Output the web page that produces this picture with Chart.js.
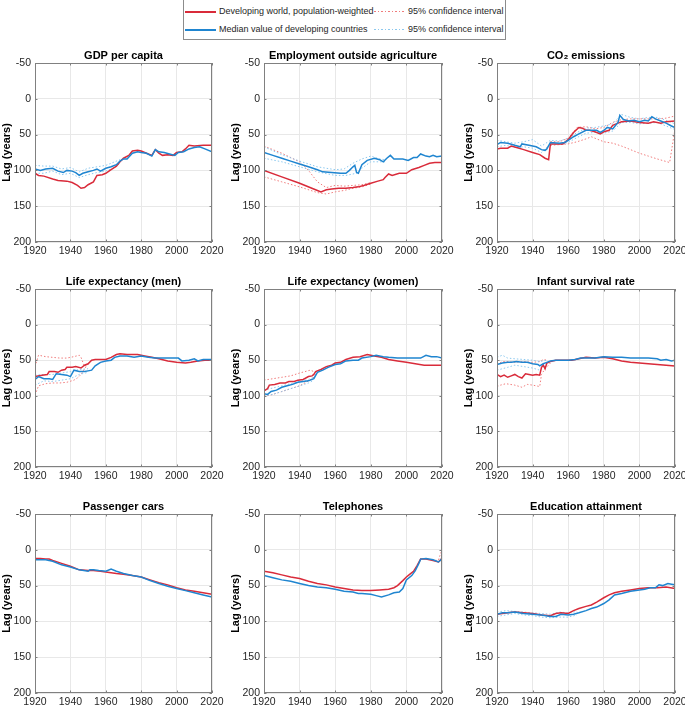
<!DOCTYPE html>
<html>
<head>
<meta charset="utf-8">
<script src="https://cdn.jsdelivr.net/npm/chart.js@4.4.1/dist/chart.umd.min.js"></script>
<style>
  html, body { margin: 0; padding: 0; background: #fff; }
  body { width: 685px; height: 707px; position: relative; overflow: hidden; font-family: 'Liberation Sans', Arial, sans-serif; }
  canvas { position: absolute; }
  .lg { position: absolute; font-size: 9px; color: #262626; line-height: 11px; white-space: nowrap; }
  .ln { position: absolute; width: 31px; height: 2px; }
  .dt { position: absolute; width: 31px; height: 1px; }
  #legend { position: absolute; left: 183px; top: -1px; width: 323px; height: 41px; box-sizing: border-box; border: 1px solid #8c8c8c; }
</style>
</head>
<body>
<div id="legend"></div>
<div class="ln" style="left:185px;top:11px;background:#d92b3a"></div>
<div class="lg" style="left:219px;top:6px">Developing world, population-weighted</div>
<div class="dt" style="left:374px;top:11px;background:repeating-linear-gradient(90deg,#f07c7c 0 1.5px,transparent 1.5px 3.5px)"></div>
<div class="lg" style="left:408px;top:6px">95% confidence interval</div>
<div class="ln" style="left:185px;top:29px;background:#1f85d0"></div>
<div class="lg" style="left:219px;top:24px">Median value of developing countries</div>
<div class="dt" style="left:374px;top:29px;background:repeating-linear-gradient(90deg,#8cc8ee 0 1.5px,transparent 1.5px 3.5px)"></div>
<div class="lg" style="left:408px;top:24px">95% confidence interval</div>

<script>
// ---- data: [year, lag] pairs ----
const titles = ['GDP per capita', 'Employment outside agriculture', 'CO\u2082 emissions',
  'Life expectancy (men)', 'Life expectancy (women)', 'Infant survival rate',
  'Passenger cars', 'Telephones', 'Education attainment'];
const xTicks = [1920, 1940, 1960, 1980, 2000, 2020];
const yTicks = [-50, 0, 50, 100, 150, 200];

const gdpRed = [[1920,104],[1922,107],[1925,108],[1930,112],[1933,114],[1938,115],[1941,117],[1944,121],[1946,125],[1948,124],[1950,120],[1953,116],[1955,107],[1958,106],[1960,104],[1963,99],[1966,94],[1968,88],[1970,83],[1973,79],[1975,73],[1978,72],[1980,73],[1983,76],[1986,79],[1988,71],[1990,76],[1992,79],[1995,78],[1998,79],[2000,75],[2003,74],[2005,70],[2007,65],[2010,66],[2015,65],[2020,65]];
const gdpBlue = [[1920,98],[1923,100],[1926,98],[1930,97],[1933,101],[1936,103],[1938,100],[1941,101],[1943,103],[1945,107],[1947,104],[1950,102],[1953,100],[1955,98],[1957,101],[1960,97],[1963,95],[1966,92],[1968,87],[1970,84],[1972,84],[1975,76],[1978,74],[1980,75],[1983,76],[1986,80],[1988,71],[1990,74],[1993,75],[1996,77],[1999,79],[2001,75],[2004,74],[2007,70],[2010,68],[2013,67],[2016,70],[2020,74]];
const gdpBlueHi = [[1920,93],[1925,94],[1930,94],[1935,98],[1940,96],[1945,102],[1950,97],[1955,95],[1960,93],[1965,88],[1968,85]];
const gdpBlueLo = [[1920,104],[1925,104],[1930,101],[1935,106],[1940,104],[1945,110],[1950,106],[1955,103],[1960,101],[1965,96],[1968,90]];

const empRed = [[1920,100],[1930,109],[1940,118],[1950,128],[1952,130],[1955,127],[1958,126],[1962,125],[1966,125],[1970,124],[1973,123],[1976,121],[1980,118],[1984,115],[1987,113],[1988,110],[1990,105],[1992,107],[1996,104],[2000,104],[2003,99],[2007,96],[2010,93],[2013,90],[2016,89],[2020,89]];
const empRedHi = [[1920,66],[1930,76],[1940,88],[1945,100],[1950,116],[1955,124],[1960,121],[1965,122],[1970,121],[1975,120],[1980,117]];
const empRedLo = [[1920,109],[1930,116],[1940,123],[1950,131],[1955,133],[1960,130],[1965,128],[1970,125],[1975,123],[1980,119]];
const empBlue = [[1920,75],[1925,79],[1930,83],[1935,87],[1940,91],[1945,95],[1950,99],[1953,102],[1958,103],[1963,104],[1966,104],[1968,100],[1970,95],[1971,93],[1972,103],[1973,104],[1975,92],[1978,86],[1982,83],[1985,85],[1987,88],[1989,83],[1991,79],[1993,84],[1996,84],[1998,84],[2001,86],[2004,82],[2006,82],[2008,77],[2011,80],[2013,81],[2015,79],[2017,81],[2020,80]];
const empBlueHi = [[1920,67],[1930,78],[1940,87],[1950,95],[1960,99],[1965,98],[1970,90],[1975,84],[1980,80],[1985,84],[1988,85]];
const empBlueLo = [[1920,83],[1930,88],[1940,95],[1950,102],[1960,107],[1966,107],[1972,104],[1975,97],[1980,88],[1985,88],[1988,88]];

const co2Red = [[1920,70],[1922,69],[1926,69],[1928,66],[1931,68],[1935,71],[1940,75],[1944,78],[1947,83],[1949,85],[1950,63],[1953,63],[1957,63],[1960,57],[1963,47],[1966,40],[1968,41],[1970,44],[1972,44],[1975,46],[1978,49],[1980,46],[1983,44],[1985,37],[1988,34],[1990,32],[1995,31],[2000,33],[2005,34],[2008,32],[2012,34],[2015,32],[2020,31]];
const co2RedHi = [[1950,60],[1955,60],[1960,55],[1965,40],[1970,39],[1975,42],[1980,40],[1985,33],[1990,29],[1995,28],[2000,28],[2005,28],[2010,28],[2015,27],[2020,24]];
const co2RedLo = [[1950,65],[1955,64],[1960,63],[1965,60],[1970,56],[1973,53],[1976,56],[1980,60],[1985,62],[1990,66],[1995,71],[2000,76],[2005,80],[2010,84],[2017,89],[2020,42]];
const co2Blue = [[1920,64],[1922,61],[1926,62],[1930,65],[1933,67],[1934,63],[1938,65],[1942,67],[1945,71],[1947,72],[1948,70],[1950,61],[1955,62],[1958,61],[1960,58],[1963,53],[1966,49],[1970,44],[1973,44],[1976,44],[1978,47],[1980,44],[1982,40],[1985,42],[1987,36],[1988,33],[1989,23],[1991,29],[1994,31],[1997,30],[2000,32],[2003,30],[2005,31],[2007,25],[2009,28],[2012,31],[2015,34],[2018,38],[2020,40]];
const co2BlueHi = [[1920,58],[1925,60],[1930,62],[1935,60],[1940,57],[1945,66],[1950,58],[1955,59],[1960,55],[1965,47],[1970,41],[1975,40],[1980,38],[1985,35],[1988,27],[1990,22],[1995,26],[2000,28],[2005,26],[2010,26],[2015,30],[2020,35]];
const co2BlueLo = [[1920,67],[1925,65],[1930,68],[1935,67],[1940,69],[1945,75],[1950,63],[1955,64],[1960,61],[1965,54],[1970,48],[1975,47],[1980,48],[1985,45],[1990,33],[1995,33],[2000,35],[2005,34],[2010,33],[2015,38],[2020,43]];

const menRed = [[1920,73],[1924,71],[1927,70],[1928,66],[1931,66],[1933,67],[1935,64],[1937,63],[1938,60],[1941,60],[1943,59],[1946,61],[1948,57],[1950,55],[1952,50],[1954,49],[1960,49],[1963,46],[1966,42],[1968,41],[1972,42],[1978,42],[1982,44],[1986,46],[1990,48],[1995,51],[2000,53],[2005,54],[2008,53],[2012,51],[2016,50],[2020,50]];
const menRedHi = [[1920,59],[1922,43],[1926,45],[1930,46],[1934,47],[1938,47],[1942,45],[1945,43],[1946,46],[1948,59],[1950,55]];
const menRedLo = [[1920,99],[1922,86],[1926,83],[1930,82],[1934,82],[1938,81],[1942,78],[1944,75],[1946,70],[1948,62],[1950,56]];
const menBlue = [[1920,77],[1922,73],[1925,76],[1928,76],[1930,77],[1932,69],[1935,70],[1938,71],[1940,73],[1942,64],[1945,66],[1948,66],[1950,65],[1952,64],[1954,58],[1957,53],[1960,51],[1963,50],[1965,46],[1968,44],[1972,44],[1976,46],[1980,44],[1984,46],[1988,47],[1993,47],[1998,47],[2001,47],[2003,51],[2007,50],[2010,48],[2012,51],[2015,49],[2020,49]];
const menBlueHi = [[1920,71],[1925,70],[1930,70],[1935,68],[1940,66],[1945,63],[1950,62]];
const menBlueLo = [[1920,85],[1925,79],[1930,80],[1935,78],[1940,76],[1945,70],[1950,67]];

const womRed = [[1920,93],[1922,90],[1923,85],[1926,84],[1929,82],[1932,82],[1934,80],[1937,80],[1939,78],[1942,77],[1945,73],[1947,72],[1948,70],[1949,66],[1952,63],[1955,59],[1958,57],[1960,54],[1963,53],[1966,49],[1970,46],[1974,45],[1978,42],[1982,44],[1986,46],[1990,49],[1995,51],[2000,53],[2005,55],[2010,57],[2015,57],[2020,57]];
const womRedHi = [[1920,78],[1925,76],[1930,74],[1935,72],[1940,68],[1943,66],[1946,64],[1948,66],[1950,66]];
const womRedLo = [[1920,101],[1925,98],[1930,94],[1935,90],[1940,86],[1945,79],[1948,74],[1950,67]];
const womBlue = [[1920,97],[1922,98],[1924,94],[1927,92],[1930,88],[1933,86],[1936,84],[1939,81],[1942,80],[1945,79],[1948,76],[1950,67],[1953,64],[1956,60],[1960,56],[1963,55],[1966,51],[1970,50],[1973,50],[1975,47],[1980,45],[1983,43],[1987,45],[1990,46],[1995,47],[2000,47],[2005,47],[2008,47],[2011,43],[2014,45],[2017,45],[2020,47]];
const womBlueHi = [[1920,92],[1925,89],[1930,86],[1935,83],[1940,80],[1945,77],[1948,74]];
const womBlueLo = [[1920,100],[1925,98],[1930,94],[1935,90],[1940,86],[1945,82],[1948,78]];

const infRed = [[1920,70],[1922,73],[1924,71],[1926,74],[1928,72],[1930,70],[1932,73],[1934,75],[1936,69],[1938,70],[1940,71],[1942,70],[1944,71],[1945,60],[1946,57],[1947,62],[1948,54],[1950,52],[1953,50],[1958,50],[1962,50],[1966,48],[1970,46],[1975,47],[1980,46],[1985,48],[1990,51],[1995,53],[2000,54],[2005,55],[2010,56],[2015,57],[2020,58]];
const infRedHi = [[1920,56],[1923,52],[1926,52],[1930,53],[1935,52],[1940,53],[1944,52],[1946,49],[1948,50]];
const infRedLo = [[1920,87],[1922,85],[1925,83],[1930,85],[1934,88],[1937,84],[1940,85],[1944,87],[1945,70],[1947,62],[1950,54]];
const infBlue = [[1920,56],[1923,54],[1926,53],[1928,53],[1931,52],[1934,53],[1937,53],[1940,55],[1943,56],[1944,58],[1946,55],[1948,53],[1950,51],[1953,50],[1957,50],[1960,50],[1964,49],[1967,47],[1970,47],[1975,47],[1980,45],[1985,46],[1990,46],[1995,47],[2000,47],[2005,47],[2010,48],[2012,50],[2015,49],[2018,51],[2020,50]];
const infBlueHi = [[1920,46],[1923,43],[1926,47],[1930,48],[1935,49],[1940,50],[1944,52],[1948,50]];
const infBlueLo = [[1920,64],[1923,62],[1926,60],[1930,57],[1935,59],[1940,61],[1944,64],[1948,56]];

const carRed = [[1920,12],[1923,12],[1926,13],[1928,13],[1930,15],[1935,19],[1940,23],[1945,28],[1950,29],[1953,29],[1957,30],[1960,31],[1963,32],[1966,33],[1970,34],[1975,36],[1980,38],[1985,42],[1990,46],[1995,49],[2000,53],[2005,56],[2010,58],[2015,60],[2020,62]];
const carBlue = [[1920,14],[1923,14],[1926,14],[1928,15],[1930,16],[1935,21],[1940,24],[1945,28],[1950,30],[1951,28],[1953,28],[1956,29],[1960,30],[1963,27],[1966,30],[1970,33],[1975,36],[1980,38],[1985,43],[1990,47],[1995,51],[2000,54],[2005,57],[2010,60],[2015,63],[2020,66]];

const telRed = [[1920,30],[1925,32],[1930,35],[1935,38],[1940,40],[1945,44],[1950,47],[1955,49],[1960,52],[1965,54],[1970,56],[1975,57],[1980,57],[1985,56],[1990,55],[1993,53],[1995,50],[1998,43],[2000,38],[2002,34],[2004,30],[2006,22],[2008,13],[2011,13],[2015,15],[2018,17],[2020,12]];
const telRedHi = [[2016,15],[2018,14],[2020,0]];
const telBlue = [[1920,36],[1925,39],[1930,42],[1935,44],[1940,47],[1945,50],[1950,52],[1955,53],[1960,55],[1965,58],[1970,59],[1973,61],[1975,61],[1980,62],[1983,64],[1986,66],[1990,63],[1993,60],[1996,59],[1998,54],[2000,42],[2003,36],[2005,29],[2007,19],[2008,13],[2011,12],[2015,14],[2018,17],[2019,15],[2020,12]];

const eduRed = [[1920,90],[1923,89],[1926,88],[1930,87],[1935,88],[1940,89],[1945,91],[1950,92],[1953,89],[1956,88],[1960,89],[1963,85],[1966,82],[1970,79],[1973,77],[1976,73],[1980,67],[1983,63],[1986,60],[1990,58],[1995,56],[2000,54],[2005,53],[2010,53],[2015,52],[2020,54]];
const eduBlue = [[1920,90],[1923,88],[1926,88],[1930,87],[1935,89],[1940,90],[1945,91],[1950,93],[1953,93],[1956,90],[1960,91],[1963,90],[1966,88],[1970,85],[1973,82],[1976,80],[1980,75],[1983,70],[1986,63],[1990,61],[1995,58],[2000,56],[2003,55],[2006,53],[2009,53],[2011,49],[2013,50],[2016,47],[2018,48],[2020,49]];
const eduBlueHi = [[1920,87],[1925,85],[1930,86],[1935,87],[1940,88],[1945,89],[1950,90],[1955,87],[1960,88],[1965,86]];
const eduBlueLo = [[1920,93],[1925,91],[1930,89],[1935,91],[1940,92],[1945,94],[1950,95],[1955,94],[1960,94],[1965,91]];

// per panel: red, red CI bounds, blue, blue CI bounds
const panelSeries = [
  { red: gdpRed, redCI: [], blue: gdpBlue, blueCI: [gdpBlueHi, gdpBlueLo] },
  { red: empRed, redCI: [empRedHi, empRedLo], blue: empBlue, blueCI: [empBlueHi, empBlueLo] },
  { red: co2Red, redCI: [co2RedHi, co2RedLo], blue: co2Blue, blueCI: [co2BlueHi, co2BlueLo] },
  { red: menRed, redCI: [menRedHi, menRedLo], blue: menBlue, blueCI: [menBlueHi, menBlueLo] },
  { red: womRed, redCI: [womRedHi, womRedLo], blue: womBlue, blueCI: [womBlueHi, womBlueLo] },
  { red: infRed, redCI: [infRedHi, infRedLo], blue: infBlue, blueCI: [infBlueHi, infBlueLo] },
  { red: carRed, redCI: [], blue: carBlue, blueCI: [] },
  { red: telRed, redCI: [telRedHi], blue: telBlue, blueCI: [] },
  { red: eduRed, redCI: [], blue: eduBlue, blueCI: [eduBlueHi, eduBlueLo] }
];

// layout of plot boxes in page pixels
const colLeft = [35, 264, 497];
const colWidth = [177, 178, 178];
const rowTop = [63, 289, 514];
const rowHeight = [179, 178, 179];
const AXW = 35, TITLEH = 20, XAXH = 18, PADR = 15;

const red = '#d92b3a', blue = '#1f85d0';
const redCI = '#f07c7c', blueCI = '#8cc8ee';
Chart.defaults.font.family = "'Liberation Sans', Arial, sans-serif";

const toXY = arr => arr.map(([x, y]) => ({ x: x, y: y }));

// MATLAB-like axes box with inward ticks
const boxPlugin = {
  id: 'box',
  afterDraw(chart) {
    const { ctx, chartArea: a, scales } = chart;
    ctx.save();
    ctx.strokeStyle = '#808080';
    ctx.lineWidth = 1;
    ctx.beginPath();
    xTicks.forEach(v => {
      const px = Math.round(scales.x.getPixelForValue(v)) + 0.5;
      ctx.moveTo(px, a.bottom); ctx.lineTo(px, a.bottom - 2.5);
      ctx.moveTo(px, a.top); ctx.lineTo(px, a.top + 2.5);
    });
    yTicks.forEach(v => {
      const py = Math.round(scales.y.getPixelForValue(v)) + 0.5;
      ctx.moveTo(a.left, py); ctx.lineTo(a.left + 2.5, py);
      ctx.moveTo(a.right, py); ctx.lineTo(a.right - 2.5, py);
    });
    ctx.stroke();
    ctx.strokeRect(Math.round(a.left) + 0.5, Math.round(a.top) + 0.5,
      Math.round(a.right - a.left) - 1, Math.round(a.bottom - a.top) - 1);
    ctx.restore();
  }
};

titles.forEach((title, i) => {
  const c = i % 3, r = Math.floor(i / 3);
  const cv = document.createElement('canvas');
  const w = AXW + colWidth[c] + PADR, h = TITLEH + rowHeight[r] + XAXH;
  cv.width = w; cv.height = h;
  cv.style.left = (colLeft[c] - AXW) + 'px';
  cv.style.top = (rowTop[r] - TITLEH) + 'px';
  cv.style.width = w + 'px'; cv.style.height = h + 'px';
  document.body.appendChild(cv);

  const s = panelSeries[i];
  const datasets = [];
  datasets.push({ data: toXY(s.blue), borderColor: blue, borderWidth: 1.5 });
  datasets.push({ data: toXY(s.red), borderColor: red, borderWidth: 1.5 });
  s.blueCI.forEach(d => datasets.push({ data: toXY(d), borderColor: blueCI, borderWidth: 1, borderDash: [1.5, 2] }));
  s.redCI.forEach(d => datasets.push({ data: toXY(d), borderColor: redCI, borderWidth: 1, borderDash: [1.5, 2] }));
  datasets.forEach(d => { d.pointRadius = 0; d.tension = 0; d.fill = false; });

  new Chart(cv, {
    type: 'line',
    data: { datasets: datasets },
    options: {
      responsive: false,
      animation: false,
      devicePixelRatio: 1,
      layout: { padding: { left: 0, right: PADR, top: 0, bottom: 0 }, autoPadding: false },
      plugins: {
        legend: { display: false },
        tooltip: { enabled: false },
        title: {
          display: true, text: title, color: '#000', fullSize: false,
          font: { size: 11, weight: 'bold' },
          padding: { top: 6.8, bottom: 0 }
        }
      },
      scales: {
        x: {
          type: 'linear', min: 1920, max: 2020,
          afterBuildTicks: sc => { sc.ticks = xTicks.map(v => ({ value: v })); },
          ticks: { color: '#262626', font: { size: 10.5 }, padding: 3, maxRotation: 0, autoSkip: false, callback: v => String(v) },
          grid: { color: '#e8e8e8', drawTicks: false },
          border: { display: false },
          afterFit: sc => { sc.height = XAXH; }
        },
        y: {
          type: 'linear', reverse: true, min: -50, max: 200,
          afterBuildTicks: sc => { sc.ticks = yTicks.map(v => ({ value: v })); },
          ticks: { color: '#262626', font: { size: 10.5 }, padding: 4, autoSkip: false, callback: v => String(v) },
          grid: { color: '#e8e8e8', drawTicks: false },
          border: { display: false },
          title: { display: true, text: 'Lag (years)', color: '#000', font: { size: 11, weight: 'bold' }, padding: 0 },
          afterFit: sc => { sc.width = AXW; }
        }
      }
    },
    plugins: [boxPlugin]
  });
});
</script>
</body>
</html>
